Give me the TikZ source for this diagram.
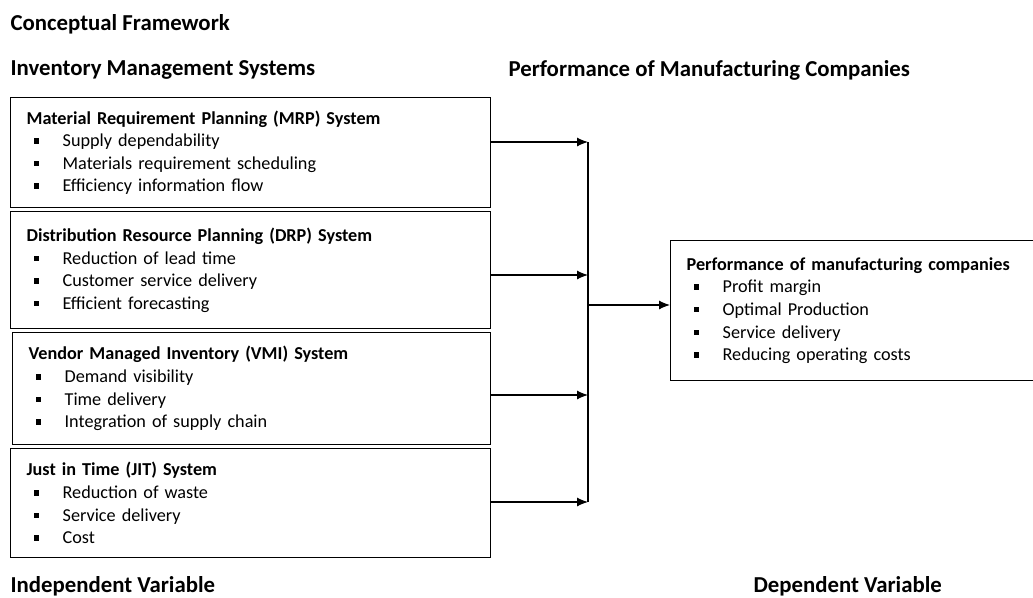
\documentclass[tikz,border=0pt]{standalone}
\usepackage{fontspec}
\setmainfont{Carlito}
\usetikzlibrary{arrows.meta,positioning}

% square bullet with its indent
\newcommand{\sqbullet}{\hspace*{7pt}\makebox[29pt][l]{\rule[3pt]{5.5pt}{5.5pt}}}

\begin{document}
\begin{tikzpicture}[
		x = 1pt, y = -1pt,
		> = {Latex[length=11pt,width=9pt]}, % arrow head style
		line width = 1.1pt, % line style
		font = \fontsize{18.2}{22.6}\selectfont
		]
		
		\tikzstyle{sysbox}=[
		draw,
		line width = 1.3pt,
		anchor = north west,
		inner xsep = 16pt,
		text width = 448pt,
		minimum height = 110pt,
		align = left
		]
		\tikzstyle{heading}=[
		anchor = west,
		inner sep = 0pt,
		font = \bfseries\fontsize{22.8}{26}\selectfont
		]
		
		\useasboundingbox (0,0) rectangle (1033,597);
		
		\node[heading] (title) at (10,24) {Conceptual Framework};
		\node[heading] (ivhead) at (10,70) {Inventory Management Systems};
		\node[heading] (dvhead) at (508,70) {Performance of Manufacturing Companies};
		
		\node[sysbox] (mrp) at (10,97) {\textbf{Material Requirement Planning (MRP) System}\\
			\sqbullet Supply dependability\\
			\sqbullet Materials requirement scheduling\\
			\sqbullet Efficiency information flow};
		\node[sysbox, minimum height=117pt] (drp) at (10,211) {\textbf{Distribution Resource Planning (DRP) System}\\
			\sqbullet Reduction of lead time\\
			\sqbullet Customer service delivery\\
			\sqbullet Efficient forecasting};
		\node[sysbox, text width=446pt, minimum height=112pt] (vmi) at (12,332) {\textbf{Vendor Managed Inventory (VMI) System}\\
			\sqbullet Demand visibility\\
			\sqbullet Time delivery\\
			\sqbullet Integration of supply chain};
		\node[sysbox, minimum height=109pt] (jit) at (10,448) {\textbf{Just in Time (JIT) System}\\
			\sqbullet Reduction of waste\\
			\sqbullet Service delivery\\
			\sqbullet Cost};
		
		\node[sysbox, text width=332pt, minimum height=140pt] (perf) at (670,240) {\textbf{Performance of manufacturing companies}\\
			\sqbullet Profit margin\\
			\sqbullet Optimal Production\\
			\sqbullet Service delivery\\
			\sqbullet Reducing operating costs};
		
		\node[heading] (ivlabel) at (10,586) {Independent Variable};
		\node[heading] (dvlabel) at (753,586) {Dependent Variable};
		
		% junction points on the collecting line
		\coordinate (j1) at (588,142);
		\coordinate (j2) at (588,275);
		\coordinate (j3) at (588,395);
		\coordinate (j4) at (588,502);
		\coordinate (jout) at (588,305);
		
		\draw[->] (mrp.east |- j1) -- (j1);
		\draw[->] (drp.east |- j2) -- (j2);
		\draw[->] (vmi.east |- j3) -- (j3);
		\draw[->] (jit.east |- j4) -- (j4);
		\draw (j1) -- (j4);
		\draw[->] (jout) -- (perf.west |- jout);
	\end{tikzpicture}
\end{document}
